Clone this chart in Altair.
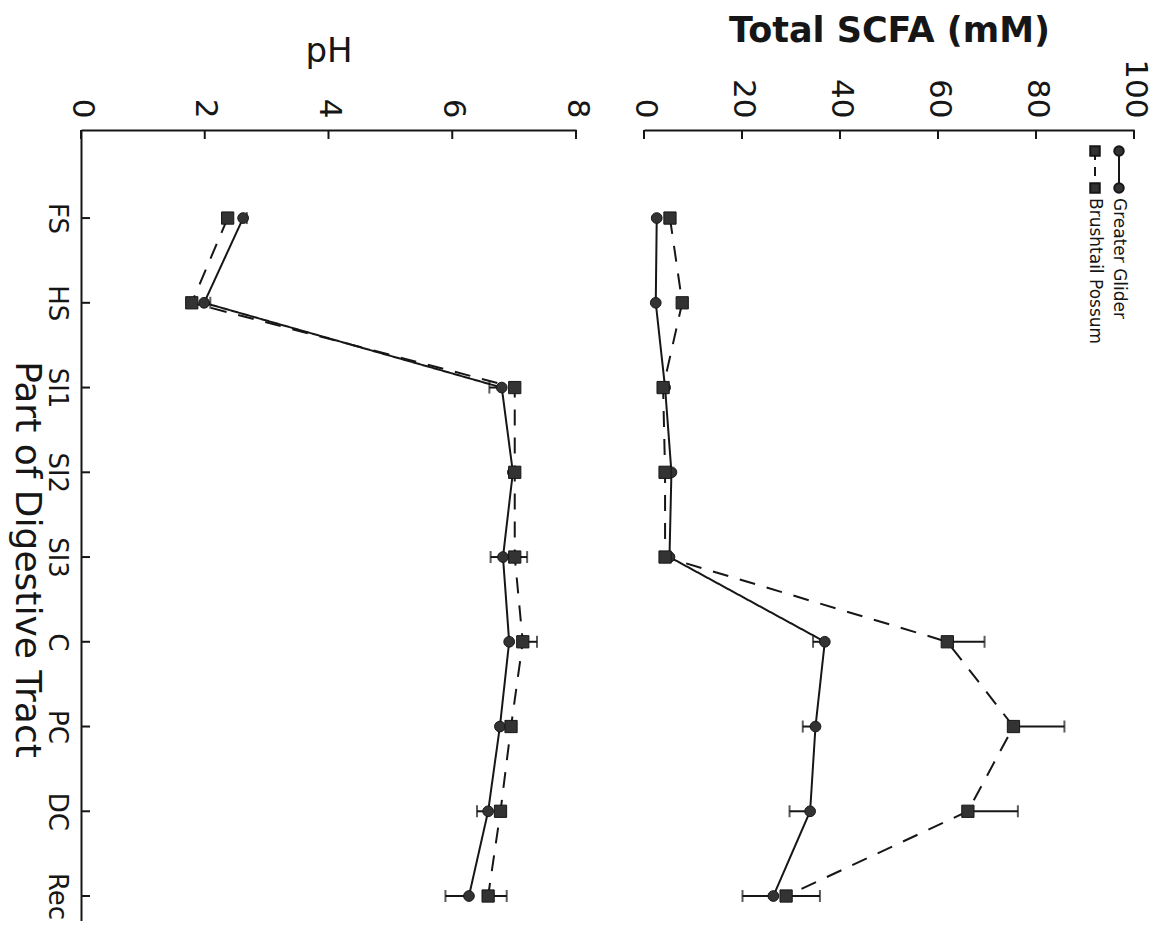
import altair as alt
import pandas as pd

categories = ["FS", "HS", "SI1", "SI2", "SI3", "C", "PC", "DC", "Rec"]
series = ["Greater Glider", "Brushtail Possum"]

ph_gg = [2.62, 1.99, 6.80, 6.98, 6.82, 6.92, 6.77, 6.58, 6.27]
ph_bp = [2.37, 1.79, 7.01, 7.01, 7.01, 7.14, 6.95, 6.78, 6.58]
ph_gg_err = [0.06, 0.10, 0.20, 0.0, 0.20, 0.0, 0.0, 0.18, 0.38]
ph_bp_err = [0.0, 0.0, 0.0, 0.0, 0.20, 0.23, 0.0, 0.0, 0.30]

scfa_gg = [2.6, 2.4, 4.3, 5.6, 5.2, 36.9, 35.0, 33.9, 26.4]
scfa_bp = [5.3, 7.8, 3.9, 4.3, 4.3, 61.9, 75.4, 66.1, 29.0]
scfa_gg_err = [0.0, 0.0, 0.0, 0.0, 0.0, 2.4, 2.6, 4.2, 6.3]
scfa_bp_err = [0.0, 0.0, 0.0, 0.0, 0.0, 7.6, 10.4, 10.2, 6.9]

ph_ticks = [0, 2, 4, 6, 8]
scfa_ticks = [0, 20, 40, 60, 80, 100]

rows = []
for i, c in enumerate(categories):
    s_ph = 1 if ph_gg[i] >= ph_bp[i] else -1
    s_sc = 1 if scfa_gg[i] >= scfa_bp[i] else -1
    rows.append(dict(Part=c, series=series[0], ph=ph_gg[i], ph_err=ph_gg_err[i], ph_side=s_ph,
                     scfa=scfa_gg[i], scfa_err=scfa_gg_err[i], scfa_side=s_sc))
    rows.append(dict(Part=c, series=series[1], ph=ph_bp[i], ph_err=ph_bp_err[i], ph_side=-s_ph,
                     scfa=scfa_bp[i], scfa_err=scfa_bp_err[i], scfa_side=-s_sc))
df = pd.DataFrame(rows)

INK = "#161616"
FILL = "#333333"
H = 791

yscale = alt.Scale(type="point", domain=categories, padding=0.667, align=0.779)
dash_scale = alt.Scale(domain=series, range=[[1, 0], [16, 12]])
shape_scale = alt.Scale(domain=series, range=["circle", "square"])
size_scale = alt.Scale(domain=series, range=[115, 150])


def panel(field, errfield, sidefield, ticks, title, dmax, width, show_y, bold, tpad, tsize):
    xaxis = alt.Axis(orient="top", title=title, values=ticks, ticks=False, labelAngle=90,
                     labelFontSize=31, titleFontSize=tsize, titleFontWeight="bold" if bold else "normal",
                     labelPadding=12, titlePadding=tpad, domainColor=INK, domainWidth=2, grid=False,
                     labelColor=INK, titleColor=INK, format="d")
    x = alt.X(f"{field}:Q", scale=alt.Scale(domain=[0, dmax], nice=False, zero=True), axis=xaxis)
    if show_y:
        yaxis = alt.Axis(title="Part of Digestive Tract", titleAngle=90, titleFontSize=36,
                         titleFontWeight="normal", titleX=-55, titleY=429, titleAlign="center",
                         titleBaseline="middle", labelAngle=90, labelFontSize=26, labelPadding=12,
                         ticks=False, domainColor=INK, domainWidth=2, grid=False,
                         labelColor=INK, titleColor=INK)
        y = alt.Y("Part:N", sort=categories, scale=yscale, axis=yaxis)
    else:
        y = alt.Y("Part:N", sort=categories, scale=yscale, axis=None)

    base = alt.Chart(df)
    lines = base.mark_line(color=INK, strokeWidth=2).encode(
        x=x, y=y, detail="series:N",
        strokeDash=alt.StrokeDash("series:N", scale=dash_scale, legend=None),
        order=alt.Order("Part_idx:Q"),
    ).transform_calculate(Part_idx=f"indexof({categories!r}, datum.Part)")
    err = base.transform_filter(f"datum.{errfield} > 0").transform_calculate(
        end=f"datum.{field} + datum.{sidefield} * datum.{errfield}")
    err_rule = err.mark_rule(color=INK, strokeWidth=2).encode(
        x=alt.X(f"{field}:Q"), x2="end:Q", y=alt.Y("Part:N"))
    err_cap = err.mark_tick(color=INK, size=12, thickness=2).encode(
        x=alt.X("end:Q"), y=alt.Y("Part:N"))
    pts = base.mark_point(filled=True, fill=FILL, stroke=INK, strokeWidth=1, opacity=1).encode(
        x=alt.X(f"{field}:Q"), y=alt.Y("Part:N"),
        shape=alt.Shape("series:N", scale=shape_scale, legend=None),
        size=alt.Size("series:N", scale=size_scale, legend=None),
    )
    tdf = pd.DataFrame({field: ticks})
    xt = alt.Chart(tdf).mark_rule(color=INK, strokeWidth=2).encode(
        x=alt.X(f"{field}:Q"), y=alt.value(0), y2=alt.value(9))
    layers = [lines, err_rule, err_cap, pts, xt]
    if show_y:
        cdf = pd.DataFrame({"Part": categories})
        yt = alt.Chart(cdf).mark_rule(color=INK, strokeWidth=2).encode(
            y=alt.Y("Part:N"), x=alt.value(0), x2=alt.value(9))
        layers.append(yt)
    return alt.layer(*layers).properties(width=width, height=H)


left = panel("ph", "ph_err", "ph_side", ph_ticks, "pH", 8, 495, True, False, 30, 34)
right = panel("scfa", "scfa_err", "scfa_side", scfa_ticks, "Total SCFA (mM)", 100, 490, False, True, 10, 35)

# legend drawn inside the SCFA panel, rotated like the rest of the figure
leg_layers = []
for i, s in enumerate(series):
    lx = 475 - 24 * i
    sdf = pd.DataFrame({"label": [s]})
    dash = [1, 0] if i == 0 else [9, 7]
    shp = "circle" if i == 0 else "square"
    leg_layers.append(alt.Chart(sdf).mark_rule(color=INK, strokeWidth=2, strokeDash=dash).encode(
        x=alt.value(lx), y=alt.value(21), y2=alt.value(58)))
    for yy in (21, 58):
        leg_layers.append(alt.Chart(sdf).mark_point(filled=True, fill=FILL, stroke=INK, shape=shp,
                                                    size=90, opacity=1).encode(
            x=alt.value(lx), y=alt.value(yy)))
    leg_layers.append(alt.Chart(sdf).mark_text(angle=90, align="left", baseline="middle",
                                               fontSize=17, fontWeight="normal", color=INK).encode(
        x=alt.value(lx), y=alt.value(68), text="label:N"))

right = alt.layer(right, *leg_layers)

chart = alt.hconcat(left, right, spacing=36).configure(
    font="DejaVu Sans", padding={"left": 0, "top": 5, "right": 5, "bottom": 0}
).configure_view(stroke="transparent", strokeWidth=0)

chart.save("out.html", embed_options={"renderer": "svg", "actions": False})
